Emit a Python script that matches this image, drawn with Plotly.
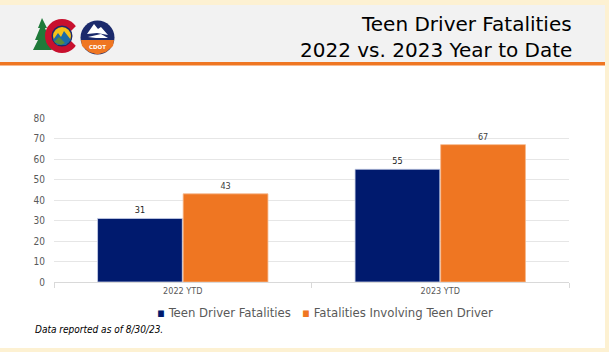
import plotly.graph_objects as go

categories = ["2022 YTD", "2023 YTD"]
teen_driver = [31, 55]
involving_teen = [43, 67]
series_names = ["Teen Driver Fatalities", "Fatalities Involving Teen Driver"]
y_ticks = [0, 10, 20, 30, 40, 50, 60, 70, 80]

W, H = 609, 352
L, R, T, B = 54, 40, 118, 70
PW, PH = W - L - R, H - T - B


def px(x):
    return (x - L) / PW


def py(y):
    return (H - B - y) / PH


navy = "#001a6e"
orange = "#ef7622"
colors = [navy, orange]

fig = go.Figure()
fig.add_trace(go.Bar(x=categories, y=teen_driver, name=series_names[0],
                     marker=dict(color=navy, line=dict(color="#c9d0e8", width=0.8)),
                     text=teen_driver, textposition="outside",
                     textfont=dict(size=9, color="#222222", family="DejaVu Sans Condensed"),
                     cliponaxis=False, showlegend=False))
fig.add_trace(go.Bar(x=categories, y=involving_teen, name=series_names[1],
                     marker=dict(color=orange, line=dict(color="#f6b88a", width=0.8)),
                     text=involving_teen, textposition="outside",
                     textfont=dict(size=9, color="#404040", family="DejaVu Sans Condensed"),
                     cliponaxis=False, showlegend=False))

shapes = []
# cream border
cream = "#fdf1d2"
shapes.append(dict(type="rect", xref="paper", yref="paper", x0=px(0), x1=px(W), y0=py(0), y1=py(5),
                   fillcolor=cream, line=dict(width=0), layer="below"))
shapes.append(dict(type="rect", xref="paper", yref="paper", x0=px(605), x1=px(W), y0=py(0), y1=py(H),
                   fillcolor=cream, line=dict(width=0), layer="below"))
shapes.append(dict(type="rect", xref="paper", yref="paper", x0=px(0), x1=px(W), y0=py(348), y1=py(H),
                   fillcolor=cream, line=dict(width=0), layer="below"))
# header band
shapes.append(dict(type="rect", xref="paper", yref="paper", x0=px(0), x1=px(605), y0=py(5), y1=py(62),
                   fillcolor="#f2f2f2", line=dict(width=0), layer="below"))
shapes.append(dict(type="rect", xref="paper", yref="paper", x0=px(0), x1=px(605), y0=py(62), y1=py(65.5),
                   fillcolor="#ef7622", line=dict(width=0), layer="below"))


def circ(cx, cy, r, color):
    return dict(type="circle", xref="paper", yref="paper", x0=px(cx - r), x1=px(cx + r),
                y0=py(cy + r), y1=py(cy - r), fillcolor=color, line=dict(width=0))


def poly(pts, color):
    d = "M " + " L ".join(f"{px(a):.5f},{py(b):.5f}" for a, b in pts) + " Z"
    return dict(type="path", xref="paper", yref="paper", path=d, fillcolor=color, line=dict(width=0))


# Colorado logo: tree
shapes.append(poly([(42, 18), (38, 28), (40, 28), (35, 40), (38, 40), (33, 50), (52, 50), (47, 40),
                    (50, 40), (45, 28), (47, 28)], "#1f7a3a"))
# red C
shapes.append(circ(62, 36, 17, "#c8102e"))
shapes.append(poly([(66, 36), (80, 22), (80, 50)], "#f2f2f2"))
shapes.append(circ(62, 36, 10.5, "#1b2a6b"))
shapes.append(circ(62, 36, 9, "#f6c21a"))
shapes.append(poly([(53, 40), (58, 33), (61, 37), (64, 31), (71, 40), (66, 45), (57, 45)], "#1b6ca8"))
shapes.append(poly([(54, 42), (59, 37), (65, 43), (61, 45)], "#5a8a3a"))
# CDOT circle
shapes.append(circ(97.5, 37.5, 17, "#1b2a6b"))
shapes.append(poly([(81, 40), (114, 40), (113, 46), (106, 52), (97.5, 54.5), (89, 52), (82, 46)], "#ef7622"))
shapes.append(poly([(87, 34), (94, 24), (98, 29), (101, 27), (108, 35), (97, 33)], "#ffffff"))
shapes.append(poly([(88, 37), (101, 34), (108, 38), (96, 38)], "#ffffff"))

legend_text = "   ".join(
    f"<span style='color:{c}'>▪</span> {n}" for c, n in zip(colors, series_names))

annotations = [
    dict(xref="paper", yref="paper", x=px(573), y=py(37.5), xanchor="right", yanchor="bottom",
         text="Teen Driver Fatalities", showarrow=False, borderpad=0,
         font=dict(size=20, color="#000000", family="DejaVu Sans")),
    dict(xref="paper", yref="paper", x=px(573), y=py(37.5), xanchor="right", yanchor="top",
         text="2022 vs. 2023 Year to Date", showarrow=False, borderpad=0,
         font=dict(size=20, color="#000000", family="DejaVu Sans")),
    dict(xref="paper", yref="paper", x=px(97.5), y=py(47), xanchor="center", yanchor="middle",
         text="<b>CDOT</b>", showarrow=False,
         font=dict(size=5.5, color="#ffffff", family="DejaVu Sans")),
    dict(xref="paper", yref="paper", x=px(325), y=py(312), xanchor="center", yanchor="middle",
         text=legend_text, showarrow=False,
         font=dict(size=13, color="#595959", family="DejaVu Sans Condensed")),
    dict(xref="paper", yref="paper", x=px(33), y=py(329), xanchor="left", yanchor="middle",
         text="<i>Data reported as of 8/30/23.</i>", showarrow=False,
         font=dict(size=10, color="#000000", family="DejaVu Sans Condensed")),
]

fig.update_layout(
    width=W, height=H,
    margin=dict(l=L, r=R, t=T, b=B),
    paper_bgcolor="#ffffff", plot_bgcolor="#ffffff",
    barmode="group", bargap=0.335, bargroupgap=0.01,
    showlegend=False,
    shapes=shapes, annotations=annotations,
    xaxis=dict(showgrid=False, showline=True, linecolor="#d9d9d9", linewidth=1,
               ticks="outside", tickson="boundaries", ticklen=5, tickcolor="#d9d9d9",
               tickfont=dict(size=9, color="#595959", family="DejaVu Sans Condensed")),
    yaxis=dict(range=[0, 80], tickvals=y_ticks, showgrid=True, gridcolor="#e6e6e6", gridwidth=1,
               zeroline=False, showline=False, ticks="", ticklabelstandoff=8,
               tickfont=dict(size=10, color="#595959", family="DejaVu Sans Condensed")),
    font=dict(family="DejaVu Sans Condensed"),
)

fig.write_html("out.html")
